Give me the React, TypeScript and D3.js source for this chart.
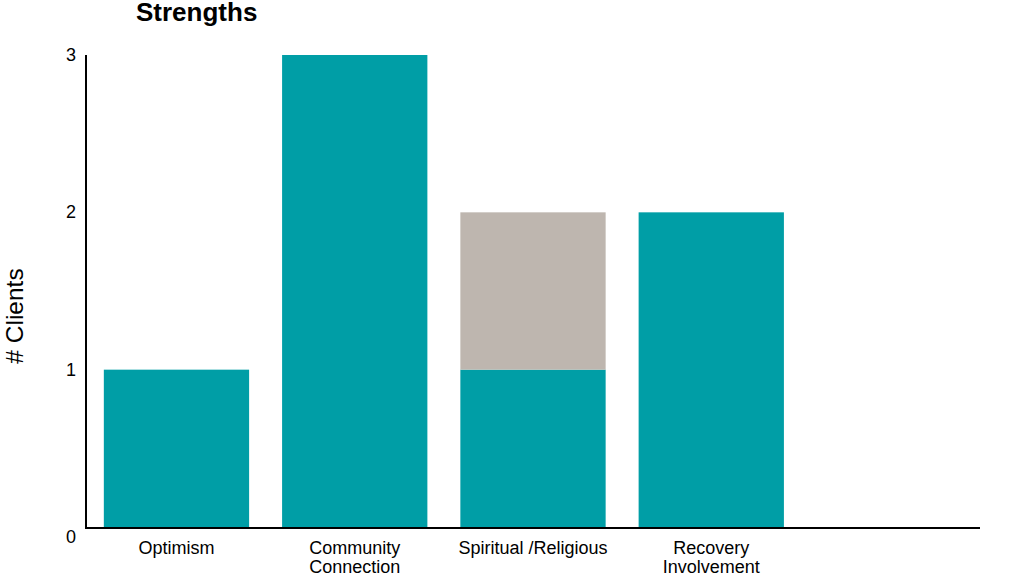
import React from "react";
import * as d3 from "d3";

const categories: string[][] = [["Optimism"], ["Community", "Connection"], ["Spiritual /Religious"], ["Recovery", "Involvement"], [""]];
const seriesA: number[] = [1, 3, 1, 2, 0];
const seriesB: number[] = [0, 0, 1, 0, 0];
const yTicks: number[] = [0, 1, 2, 3];

const W = 1024, H = 581;
const left = 86, right = 980, top = 55, bottom = 527;
const teal = "#009EA6", gray = "#BEB6AF";

export default function App() {
  const keys = categories.map((_, i) => String(i));
  const x = d3.scaleBand<string>().domain(keys).range([left, right]).paddingInner(0.185).paddingOuter(0.1);
  const y = d3.scaleLinear().domain([0, 3]).range([bottom, top]);
  const font = "Arial, 'Liberation Sans', Helvetica, sans-serif";
  return (
    <svg width={W} height={H} style={{ position: "absolute", left: 0, top: 0, background: "#fff" }} fontFamily={font}>
      <text x={136} y={21} fontSize={26} fontWeight="bold" fill="#000">Strengths</text>
      <text transform={`translate(23,316) rotate(-90)`} textAnchor="middle" fontSize={24.5} fill="#000"># Clients</text>
      {keys.map((k, i) => {
        const x0 = x(k)!;
        const bw = x.bandwidth();
        return (
          <g key={k}>
            {seriesA[i] > 0 && <rect x={x0} y={y(seriesA[i])} width={bw} height={y(0) - y(seriesA[i])} fill={teal} />}
            {seriesB[i] > 0 && <rect x={x0} y={y(seriesA[i] + seriesB[i])} width={bw} height={y(seriesA[i]) - y(seriesA[i] + seriesB[i])} fill={gray} />}
            {categories[i].map((line, j) => (
              <text key={j} x={x0 + bw / 2} y={554 + j * 19} textAnchor="middle" fontSize={18} fill="#000">{line}</text>
            ))}
          </g>
        );
      })}
      {yTicks.map(t => (
        <text key={t} x={76} y={y(t) + 6 + (t === 0 ? 10 : 0)} textAnchor="end" fontSize={18} fill="#000">{t}</text>
      ))}
      <line x1={left} x2={left} y1={top} y2={bottom + 1} stroke="#000" strokeWidth={2} />
      <line x1={left - 1} x2={right} y1={bottom + 1} y2={bottom + 1} stroke="#000" strokeWidth={2} />
    </svg>
  );
}
